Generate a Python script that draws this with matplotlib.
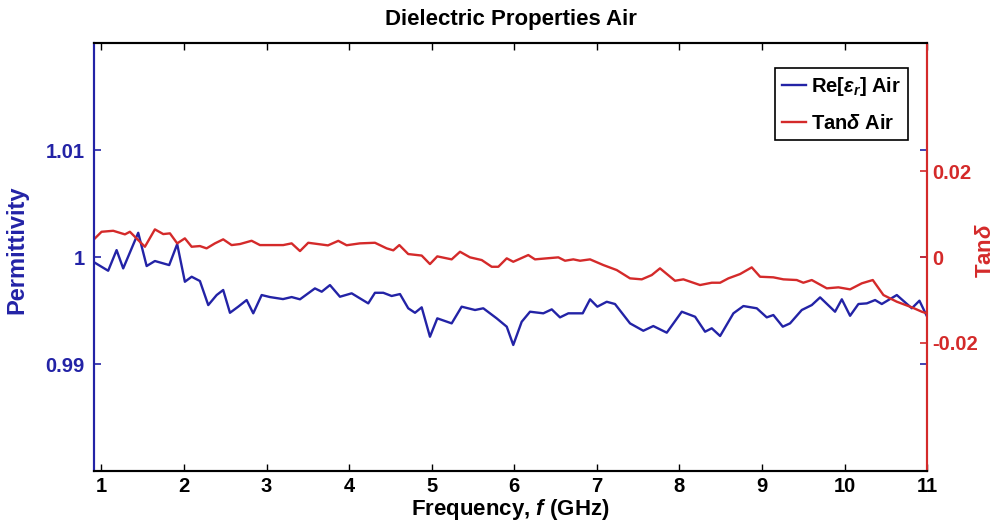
import matplotlib
matplotlib.use("Agg")
import matplotlib.pyplot as plt
from matplotlib.lines import Line2D

plt.rcParams['font.family'] = ['Liberation Sans', 'DejaVu Sans']
plt.rcParams['font.weight'] = 'bold'
plt.rcParams['mathtext.fontset'] = 'custom'
plt.rcParams['mathtext.rm'] = 'Liberation Sans:bold'
plt.rcParams['mathtext.it'] = 'Liberation Sans:italic:bold'
plt.rcParams['mathtext.bf'] = 'Liberation Sans:bold'

# Real part of permittivity of air
freq_eps = [0.901, 1.082, 1.184, 1.264, 1.446, 1.548, 1.648, 1.821, 1.918, 2.011,
            2.093, 2.193, 2.294, 2.396, 2.475, 2.557, 2.657, 2.759, 2.839, 2.941,
            3.041, 3.199, 3.304, 3.405, 3.586, 3.668, 3.768, 3.889, 4.031, 4.131,
            4.232, 4.313, 4.414, 4.515, 4.616, 4.716, 4.798, 4.879, 4.979, 5.068,
            5.242, 5.363, 5.525, 5.625, 5.787, 5.909, 5.988, 6.090, 6.191, 6.352,
            6.454, 6.554, 6.655, 6.829, 6.918, 7.006, 7.120, 7.220, 7.402, 7.563,
            7.684, 7.847, 8.029, 8.190, 8.311, 8.392, 8.493, 8.654, 8.775, 8.937,
            9.058, 9.138, 9.252, 9.340, 9.482, 9.603, 9.704, 9.885, 9.967, 10.067,
            10.168, 10.270, 10.370, 10.451, 10.633, 10.815, 10.907, 10.996]
eps_real = [0.99956, 0.99872, 1.00065, 0.99894, 1.00227, 0.99916, 0.99963, 0.99925, 1.00121, 0.99769,
            0.99816, 0.99776, 0.99551, 0.99645, 0.99692, 0.99479, 0.99536, 0.99598, 0.99474, 0.99645,
            0.99626, 0.99607, 0.99626, 0.99605, 0.99707, 0.99676, 0.99738, 0.99629, 0.99661, 0.99614,
            0.99567, 0.99666, 0.99666, 0.99636, 0.99654, 0.99521, 0.99479, 0.99530, 0.99255, 0.99427,
            0.99380, 0.99536, 0.99505, 0.99521, 0.99427, 0.99349, 0.99178, 0.99395, 0.99489, 0.99474,
            0.99511, 0.99436, 0.99474, 0.99474, 0.99605, 0.99536, 0.99582, 0.99561, 0.99380, 0.99311,
            0.99355, 0.99293, 0.99489, 0.99442, 0.99302, 0.99334, 0.99262, 0.99474, 0.99542, 0.99521,
            0.99436, 0.99458, 0.99349, 0.99380, 0.99505, 0.99551, 0.99623, 0.99489, 0.99605, 0.99451,
            0.99561, 0.99567, 0.99598, 0.99561, 0.99645, 0.99521, 0.99592, 0.99449]

# Loss tangent of air
freq_tan = [0.901, 1.002, 1.143, 1.285, 1.345, 1.527, 1.648, 1.749, 1.830, 1.918,
            2.011, 2.093, 2.193, 2.274, 2.375, 2.475, 2.577, 2.678, 2.819, 2.920,
            3.041, 3.202, 3.304, 3.405, 3.505, 3.744, 3.869, 3.970, 4.131, 4.313,
            4.455, 4.535, 4.608, 4.716, 4.879, 4.979, 5.068, 5.242, 5.343, 5.464,
            5.606, 5.727, 5.807, 5.909, 5.988, 6.170, 6.251, 6.393, 6.534, 6.615,
            6.715, 6.797, 6.918, 7.079, 7.241, 7.402, 7.544, 7.665, 7.765, 7.947,
            8.048, 8.250, 8.392, 8.493, 8.593, 8.735, 8.876, 8.977, 9.138, 9.259,
            9.421, 9.501, 9.603, 9.785, 9.926, 10.067, 10.209, 10.342, 10.471, 10.633,
            10.815, 10.936, 10.996]
tan_delta = [0.00397, 0.00591, 0.00614, 0.00530, 0.00591, 0.00241, 0.00647, 0.00537, 0.00554, 0.00320,
             0.00437, 0.00241, 0.00257, 0.00203, 0.00320, 0.00414, 0.00280, 0.00304, 0.00381, 0.00280,
             0.00280, 0.00280, 0.00320, 0.00140, 0.00334, 0.00273, 0.00379, 0.00276, 0.00320, 0.00334,
             0.00203, 0.00157, 0.00280, 0.00070, 0.00035, -0.00164, 0.00016, -0.00054, 0.00124, -0.00007,
             -0.00070, -0.00227, -0.00227, -0.00030, -0.00110, 0.00047, -0.00054, -0.00030, -0.00007, -0.00086,
             -0.00054, -0.00086, -0.00054, -0.00187, -0.00304, -0.00498, -0.00521, -0.00421, -0.00264, -0.00554,
             -0.00521, -0.00654, -0.00600, -0.00600, -0.00498, -0.00397, -0.00241, -0.00460, -0.00474, -0.00521,
             -0.00537, -0.00600, -0.00537, -0.00731, -0.00708, -0.00755, -0.00614, -0.00537, -0.00888, -0.01044,
             -0.01175, -0.01278, -0.01315]

x_ticks = [1, 2, 3, 4, 5, 6, 7, 8, 9, 10, 11]
eps_ticks = [0.99, 1.0, 1.01]
eps_tick_labels = ['0.99', '1', '1.01']
tan_ticks = [-0.02, 0.0, 0.02]
tan_tick_labels = ['-0.02', '0', '0.02']

BLUE = '#2323a6'
RED = '#d42a2a'
TICK_FS = 14.5
LABEL_FS = 16

fig = plt.figure(figsize=(10.05, 5.26), dpi=100)
ax1 = fig.add_axes([0.0935, 0.1046, 0.829, 0.8134])
ax2 = ax1.twinx()

ax1.plot(freq_eps, eps_real, color=BLUE, lw=1.7)
ax2.plot(freq_tan, tan_delta, color=RED, lw=1.7)

ax1.set_xlim(0.91, 11)
ax1.set_ylim(0.98, 1.02)
ax2.set_ylim(-0.05, 0.05)

ax1.set_xticks(x_ticks)
ax1.set_xticklabels([str(v) for v in x_ticks], fontsize=TICK_FS, fontweight='bold')
ax1.set_yticks(eps_ticks)
ax1.set_yticklabels(eps_tick_labels, fontsize=TICK_FS, fontweight='bold', color=BLUE)
ax2.set_yticks(tan_ticks)
ax2.set_yticklabels(tan_tick_labels, fontsize=TICK_FS, fontweight='bold', color=RED)

ax1.tick_params(axis='x', direction='in', top=True, length=5, width=1, pad=4, color='black')
ax1.tick_params(axis='y', direction='in', left=True, right=True, length=5, width=1.2,
                pad=6.5, colors=BLUE)
ax2.tick_params(axis='y', direction='in', length=5, width=1.2, pad=3.5, colors=RED)

for ax in (ax1, ax2):
    ax.spines['top'].set_color('black')
    ax.spines['bottom'].set_color('black')
    ax.spines['left'].set_color(BLUE)
    ax.spines['right'].set_color(RED)
    for s in ax.spines.values():
        s.set_linewidth(1.5)

ax1.set_title('Dielectric Properties Air', fontsize=LABEL_FS, fontweight='bold', pad=13)
ax1.set_xlabel('Frequency, $\\mathit{f}$ (GHz)', fontsize=LABEL_FS, fontweight='bold', labelpad=1)
ax1.set_ylabel('Permittivity', fontsize=17, fontweight='bold', color=BLUE)
ax1.yaxis.set_label_coords(-0.079, 0.516)
ax2.set_ylabel('Tan$\\mathit{\\delta}$', fontsize=LABEL_FS, fontweight='bold', color=RED)
ax2.yaxis.set_label_coords(1.058, 0.516)

handles = [Line2D([], [], color=BLUE, lw=1.7), Line2D([], [], color=RED, lw=1.7)]
labels = ['Re[$\\mathit{\\varepsilon_r}$] Air', 'Tan$\\mathit{\\delta}$ Air']
leg = ax2.legend(handles, labels, loc='upper right', bbox_to_anchor=(0.977, 0.942),
                 fancybox=False, edgecolor='black', framealpha=1, handlelength=1.2,
                 handletextpad=0.25, borderpad=0.35, borderaxespad=0, labelspacing=0.8,
                 prop={'size': TICK_FS, 'weight': 'bold'})
leg.get_frame().set_linewidth(1.2)

fig.savefig('out.png', dpi=100)
